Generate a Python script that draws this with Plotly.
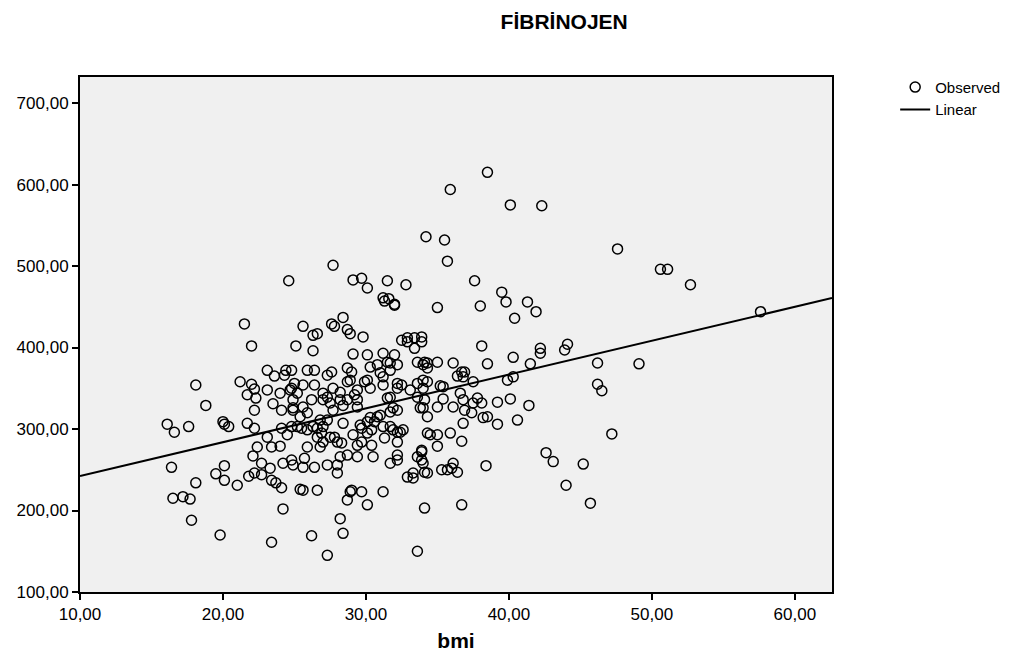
import plotly.graph_objects as go

# Observed points (bmi, fibrinojen)
bmi = [
    38.5, 35.9, 40.1, 42.3, 34.2, 35.5, 35.7, 47.6, 50.6, 51.1, 52.7, 27.7, 24.6, 29.1, 29.7, 30.1,
    31.5, 32.8, 37.6, 39.5, 39.8, 41.3, 31.2, 31.6, 32.0, 35.0, 38.0, 41.9, 40.4, 57.6, 21.5, 25.6,
    27.6, 28.4, 27.8, 26.3, 26.6, 28.7, 29.8, 22.0, 25.1, 26.3, 32.5, 32.9, 33.4, 33.9, 32.9, 38.1,
    42.2, 42.2, 44.1, 43.9, 40.3, 38.5, 46.2, 46.2, 46.5, 49.1, 47.2, 41.4, 40.6, 42.6, 43.1, 45.2,
    44.0, 45.7, 38.4, 36.7, 34.1, 33.6,
    16.1, 16.6, 16.4, 16.5, 17.2, 17.7, 17.6, 18.1, 18.8, 17.8, 20.1, 19.5, 20.1, 21.0, 19.8, 20.0,
    20.1, 20.4, 21.2, 22.0, 22.2, 21.7, 22.3, 23.1, 23.1, 23.6, 24.4, 24.3, 22.2, 21.7, 22.2, 23.5,
    24.1, 24.9, 24.0, 24.7, 24.1, 24.5, 22.4, 23.1, 23.4, 24.0, 22.1, 22.7, 23.3, 24.2, 24.8, 21.8,
    22.2, 22.7, 23.4, 23.7, 24.1, 18.1, 23.4, 24.2, 25.4,
    31.3, 32.0, 28.9, 29.1, 30.1, 31.2, 32.0, 33.4, 33.6, 34.0, 34.3, 31.5, 31.7, 32.2, 30.8, 30.3,
    31.0, 31.2, 31.7, 30.1, 29.9, 28.7, 29.0, 28.9, 28.7, 27.6, 27.3, 25.9, 26.4, 24.8, 25.6, 26.4,
    25.0, 24.8, 25.2, 27.7, 28.2, 29.4, 29.2, 30.3, 31.2, 32.2, 32.5, 32.2, 33.1, 33.6, 34.0, 34.3,
    33.6, 31.5, 31.7, 31.9, 32.2, 31.7, 31.0, 30.8, 30.3, 30.1, 29.4, 29.4, 28.7, 28.2, 28.4, 27.3,
    27.0, 27.0, 27.5, 27.7, 26.2, 25.6, 24.9, 24.9, 25.9, 25.4, 24.8, 25.2, 25.5, 25.9, 26.3, 26.6,
    27.0, 27.3, 26.8, 26.9, 26.6, 27.0, 26.8, 27.5, 27.8, 28.0, 28.3, 28.4, 29.1, 29.6, 29.7, 30.1,
    29.7, 29.4, 30.4, 30.6, 31.2, 31.7, 31.9, 32.2, 32.4, 32.6, 31.3, 32.2, 30.4, 30.5, 29.4, 28.7,
    28.2, 28.0, 28.0, 27.3, 26.4, 25.6, 24.9, 25.9, 25.7, 31.7, 32.2, 32.2, 32.9, 33.3, 33.3, 33.9,
    33.6, 33.9, 34.1, 34.3, 34.3, 33.8, 34.1, 25.6, 26.6, 29.0, 28.9, 29.7, 28.7, 30.1, 31.2, 28.2,
    26.2, 28.4, 27.3,
    33.9, 41.5, 34.1, 34.3, 35.0, 36.1, 36.4, 36.7, 36.9, 36.8, 37.5, 35.2, 35.4, 34.0, 39.9, 40.3,
    36.6, 35.4, 36.1, 35.0, 34.0, 36.8, 37.5, 37.8, 38.1, 36.9, 37.4, 38.2, 38.5, 39.2, 40.1, 39.2,
    36.8, 35.9, 36.7, 34.5, 35.0, 35.0, 33.9, 34.0, 34.3, 35.3, 35.7, 36.1, 36.4, 36.0,
]
fibrinojen = [
    615, 594, 575, 574, 536, 532, 506, 521, 496, 496, 477, 501, 482, 483, 485, 473,
    482, 477, 482, 468, 456, 456, 461, 460, 453, 449, 451, 444, 436, 444, 429, 426,
    429, 437, 426, 415, 417, 422, 413, 402, 402, 396, 409, 412, 412, 407, 407, 402,
    399, 393, 404, 397, 388, 380, 381, 355, 347, 380, 294, 329, 311, 271, 260, 257,
    231, 209, 255, 207, 203, 150,
    306, 296, 253, 215, 217, 214, 303, 354, 329, 188, 255, 245, 237, 231, 170, 309,
    306, 303, 358, 355, 349, 342, 338, 348, 372, 365, 372, 366, 323, 307, 301, 331,
    323, 323, 344, 348, 301, 293, 278, 290, 278, 279, 267, 258, 252, 258, 262, 242,
    246, 244, 237, 234, 228, 234, 161, 202, 226,
    457, 452, 417, 392, 391, 393, 391, 399, 382, 379, 381, 382, 381, 379, 379, 376,
    369, 364, 372, 360, 358, 375, 370, 360, 358, 370, 366, 372, 372, 372, 354, 354,
    356, 350, 344, 350, 345, 348, 342, 350, 354, 356, 354, 350, 348, 356, 360, 358,
    339, 338, 339, 326, 323, 321, 317, 315, 314, 309, 327, 336, 336, 336, 329, 339,
    344, 336, 332, 323, 336, 327, 336, 326, 320, 315, 303, 303, 301, 299, 303, 301,
    303, 311, 311, 295, 290, 284, 278, 290, 290, 284, 283, 307, 293, 305, 301, 295,
    284, 280, 299, 309, 303, 303, 299, 296, 296, 299, 289, 284, 280, 266, 266, 268,
    266, 256, 246, 256, 253, 253, 256, 278, 264, 258, 268, 262, 241, 246, 240, 272,
    266, 262, 247, 295, 315, 326, 336, 225, 225, 225, 223, 223, 213, 207, 223, 190,
    169, 172, 145,
    413, 380, 382, 375, 382, 381, 365, 370, 370, 364, 358, 353, 352, 350, 360, 364,
    344, 337, 327, 327, 326, 336, 332, 338, 332, 323, 320, 314, 315, 333, 337, 306,
    307, 295, 285, 293, 293, 279, 274, 258, 246, 250, 250, 258, 247, 252,
]

# Linear fit line endpoints
linear_x = [10.0, 62.6]
linear_y = [242.3, 460.7]

x_ticks = [10, 20, 30, 40, 50, 60]
y_ticks = [100, 200, 300, 400, 500, 600, 700]

FONT = "Liberation Sans, Arial, sans-serif"

fig = go.Figure()
fig.add_trace(go.Scatter(
    x=bmi, y=fibrinojen, mode="markers", name="Observed",
    marker=dict(symbol="circle-open", size=10, color="black", line=dict(width=1.5, color="black")),
))
fig.add_trace(go.Scatter(
    x=linear_x, y=linear_y, mode="lines", name="Linear",
    line=dict(color="black", width=2),
))

fig.update_layout(
    width=1030, height=668,
    margin=dict(l=72, r=206, t=69, b=84, autoexpand=False),
    paper_bgcolor="white",
    plot_bgcolor="#F0F0F0",
    separators=",.",
    font=dict(family=FONT, size=17, color="black"),
    title=dict(text="<b>FİBRİNOJEN</b>", x=0.54, xanchor="center", y=0.979, yanchor="middle",
               font=dict(family=FONT, size=21, color="black"), automargin=False),
    showlegend=True,
    legend=dict(x=1.084, y=1.012, xanchor="left", yanchor="top", bgcolor="rgba(0,0,0,0)",
                font=dict(family=FONT, size=15, color="black"), tracegroupgap=0, itemwidth=30),
)
fig.update_xaxes(
    range=[10, 62.6], tickvals=x_ticks, tickformat=".2f", automargin=False,
    showgrid=False, zeroline=False, showline=True, linecolor="black", linewidth=2, mirror=True,
    ticks="outside", ticklen=6, tickwidth=2, tickcolor="black",
    title=dict(text="<b>bmi</b>", font=dict(family=FONT, size=21, color="black"), standoff=10),
)
fig.update_yaxes(
    range=[100, 732], tickvals=y_ticks, tickformat=".2f", automargin=False,
    showgrid=False, zeroline=False, showline=True, linecolor="black", linewidth=2, mirror=True,
    ticks="outside", ticklen=6, tickwidth=2, tickcolor="black",
)

fig.write_html("out.html")
